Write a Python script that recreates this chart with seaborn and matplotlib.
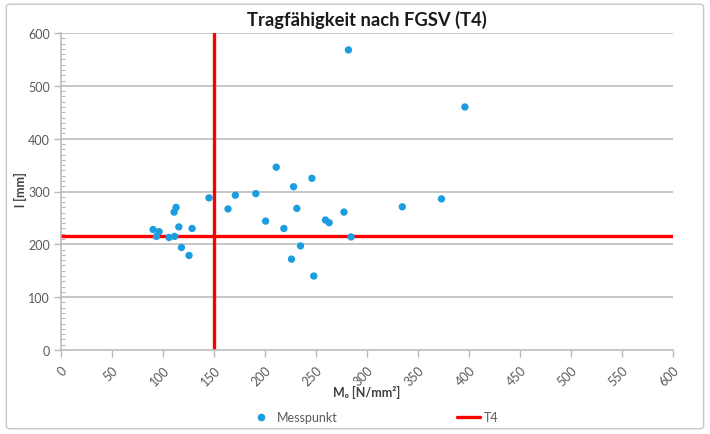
import matplotlib
matplotlib.use("Agg")
import matplotlib.pyplot as plt
from matplotlib.patches import FancyBboxPatch
from matplotlib.lines import Line2D
from matplotlib.ticker import MultipleLocator
import numpy as np
import pandas as pd
import seaborn as sns

# Measurement points: modulus M0 [N/mm²] and length l [mm]
m0 = [90.3, 96.2, 93.6, 106.0, 111.5, 115.5, 128.5, 118.1, 125.5, 110.9,
      112.8, 145.1, 163.7, 170.9, 191.0, 200.6, 211.0, 218.5, 228.0, 231.2,
      234.8, 226.0, 246.0, 247.8, 259.3, 262.9, 277.4, 284.4, 334.6, 373.0,
      281.8, 396.0]
l_mm = [228, 224, 215, 213, 215, 233, 230, 194, 179, 261,
        270, 288, 267, 293, 296, 244, 346, 230, 309, 268,
        197, 172, 325, 140, 246, 241, 261, 214, 271, 286,
        568, 460]

# T4 limits
t4_m0 = 150
t4_l = 215

x_ticks = list(range(0, 601, 50))
y_ticks = list(range(0, 601, 100))

title = "Tragfähigkeit nach FGSV (T4)"
x_label = "M₀ [N/mm²]"
y_label = "l [mm]"

df = pd.DataFrame({"M0": m0, "l": l_mm})

sns.set_theme(style="white")
plt.rcParams["font.family"] = ["Lato", "DejaVu Sans"]

fig = plt.figure(figsize=(7.1, 4.35), dpi=100)
ax = fig.add_axes([61 / 710, 1 - 351 / 435, 612 / 710, 317 / 435])

# chart frame
frame = FancyBboxPatch((0.009, 0.012), 0.982, 0.976,
                       boxstyle="round,pad=0,rounding_size=0.006",
                       transform=fig.transFigure, facecolor="none",
                       edgecolor="#c8c8c8", linewidth=1.0, zorder=0)
fig.patches.append(frame)

grid_col = "#b8b8b8"
text_col = "#595959"
point_col = "#1c9de0"
red = "#ff0000"

for yv in y_ticks[1:]:
    ax.axhline(yv, color=grid_col, linewidth=1.1, zorder=0.5)

ax.axvline(t4_m0, color=red, linewidth=2.4, zorder=2)
ax.axhline(t4_l, color=red, linewidth=2.4, zorder=2)

sns.scatterplot(data=df, x="M0", y="l", ax=ax, color=point_col, s=28,
                linewidth=0, edgecolor="none", zorder=3, legend=False)

ax.set_xlim(0, 600)
ax.set_ylim(0, 600)
ax.set_xticks(x_ticks)
ax.set_yticks(y_ticks)
ax.set_xticklabels([str(v) for v in x_ticks], rotation=45, ha="right",
                   rotation_mode="anchor", fontsize=9, color=text_col)
ax.set_yticklabels([str(v) for v in y_ticks], fontsize=9, color=text_col)
ax.yaxis.set_minor_locator(MultipleLocator(10))

for s in ["top", "right"]:
    ax.spines[s].set_visible(False)
for s in ["left", "bottom"]:
    ax.spines[s].set_color(grid_col)
    ax.spines[s].set_linewidth(1.1)

ax.tick_params(axis="both", which="major", direction="out", length=5,
               width=1, color=grid_col, pad=3, left=True, bottom=True)
ax.tick_params(axis="y", which="minor", direction="in", length=3,
               width=0.8, color=grid_col, left=True)
ax.tick_params(axis="x", which="major", pad=5)
ax.grid(False)

ax.set_xlabel(x_label, fontsize=9, fontweight="bold", color="#404040",
              family=["Lato", "DejaVu Sans"])
ax.xaxis.set_label_coords(0.5, -0.13)
ax.xaxis.label.set_va("center")
ax.set_ylabel(y_label, fontsize=9, fontweight="bold", color="#404040")
ax.yaxis.set_label_coords(-0.066, 0.508)
ax.yaxis.label.set_va("center")

fig.text(367 / 710, 1 - 20 / 435, title, ha="center", va="center",
         fontsize=13.2, fontweight="bold", color="#1a1a1a")

handles = [
    Line2D([], [], linestyle="none", marker="o", markersize=5.5,
           markerfacecolor=point_col, markeredgewidth=0, label="Messpunkt"),
    Line2D([], [], color=red, linewidth=2.4, label="T4"),
]
leg = fig.legend(handles=handles, loc="center", ncol=2,
                 bbox_to_anchor=(0.527, 1 - 418 / 435), frameon=False,
                 fontsize=9, handlelength=1.8, handletextpad=0.3,
                 columnspacing=9.6)
for t in leg.get_texts():
    t.set_color(text_col)

fig.savefig("out.png", dpi=100)
